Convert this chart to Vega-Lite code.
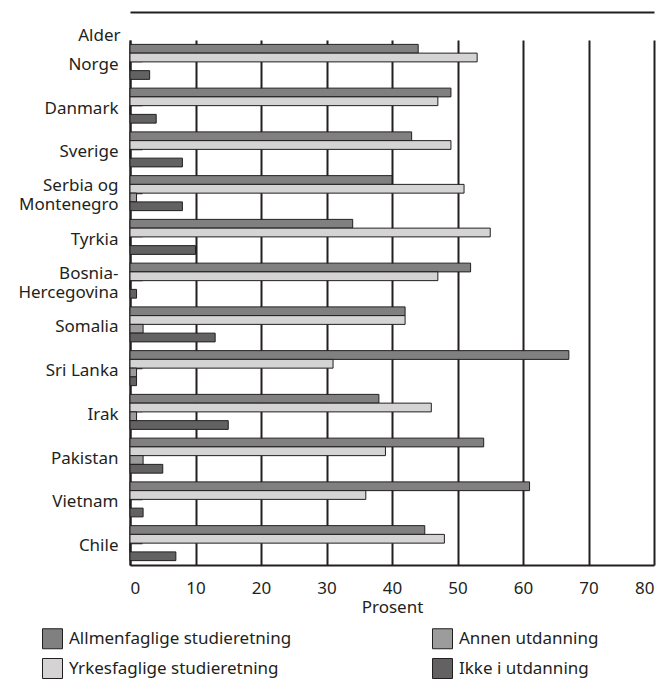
{
  "$schema": "https://vega.github.io/schema/vega-lite/v6.json",
  "width": 524,
  "height": 525,
  "autosize": "none",
  "padding": {"left": 130, "top": 40, "right": 13, "bottom": 128},
  "config": {
    "font": "Noto Sans",
    "view": {"stroke": null},
    "axis": {"labelFont": "Noto Sans", "titleFont": "Noto Sans", "labelColor": "#231f20", "titleColor": "#231f20"},
    "legend": {"labelFont": "Noto Sans", "labelColor": "#231f20"}
  },
  "data": {
    "values": [
      {"land": "Norge", "serie": "Allmenfaglige studieretning", "prosent": 44},
      {"land": "Norge", "serie": "Yrkesfaglige studieretning", "prosent": 53},
      {"land": "Norge", "serie": "Annen utdanning", "prosent": 0},
      {"land": "Norge", "serie": "Ikke i utdanning", "prosent": 3},
      {"land": "Danmark", "serie": "Allmenfaglige studieretning", "prosent": 49},
      {"land": "Danmark", "serie": "Yrkesfaglige studieretning", "prosent": 47},
      {"land": "Danmark", "serie": "Annen utdanning", "prosent": 0},
      {"land": "Danmark", "serie": "Ikke i utdanning", "prosent": 4},
      {"land": "Sverige", "serie": "Allmenfaglige studieretning", "prosent": 43},
      {"land": "Sverige", "serie": "Yrkesfaglige studieretning", "prosent": 49},
      {"land": "Sverige", "serie": "Annen utdanning", "prosent": 0},
      {"land": "Sverige", "serie": "Ikke i utdanning", "prosent": 8},
      {"land": "Serbia og Montenegro", "serie": "Allmenfaglige studieretning", "prosent": 40},
      {"land": "Serbia og Montenegro", "serie": "Yrkesfaglige studieretning", "prosent": 51},
      {"land": "Serbia og Montenegro", "serie": "Annen utdanning", "prosent": 1},
      {"land": "Serbia og Montenegro", "serie": "Ikke i utdanning", "prosent": 8},
      {"land": "Tyrkia", "serie": "Allmenfaglige studieretning", "prosent": 34},
      {"land": "Tyrkia", "serie": "Yrkesfaglige studieretning", "prosent": 55},
      {"land": "Tyrkia", "serie": "Annen utdanning", "prosent": 0},
      {"land": "Tyrkia", "serie": "Ikke i utdanning", "prosent": 10},
      {"land": "Bosnia-Hercegovina", "serie": "Allmenfaglige studieretning", "prosent": 52},
      {"land": "Bosnia-Hercegovina", "serie": "Yrkesfaglige studieretning", "prosent": 47},
      {"land": "Bosnia-Hercegovina", "serie": "Annen utdanning", "prosent": 0},
      {"land": "Bosnia-Hercegovina", "serie": "Ikke i utdanning", "prosent": 1},
      {"land": "Somalia", "serie": "Allmenfaglige studieretning", "prosent": 42},
      {"land": "Somalia", "serie": "Yrkesfaglige studieretning", "prosent": 42},
      {"land": "Somalia", "serie": "Annen utdanning", "prosent": 2},
      {"land": "Somalia", "serie": "Ikke i utdanning", "prosent": 13},
      {"land": "Sri Lanka", "serie": "Allmenfaglige studieretning", "prosent": 67},
      {"land": "Sri Lanka", "serie": "Yrkesfaglige studieretning", "prosent": 31},
      {"land": "Sri Lanka", "serie": "Annen utdanning", "prosent": 1},
      {"land": "Sri Lanka", "serie": "Ikke i utdanning", "prosent": 1},
      {"land": "Irak", "serie": "Allmenfaglige studieretning", "prosent": 38},
      {"land": "Irak", "serie": "Yrkesfaglige studieretning", "prosent": 46},
      {"land": "Irak", "serie": "Annen utdanning", "prosent": 1},
      {"land": "Irak", "serie": "Ikke i utdanning", "prosent": 15},
      {"land": "Pakistan", "serie": "Allmenfaglige studieretning", "prosent": 54},
      {"land": "Pakistan", "serie": "Yrkesfaglige studieretning", "prosent": 39},
      {"land": "Pakistan", "serie": "Annen utdanning", "prosent": 2},
      {"land": "Pakistan", "serie": "Ikke i utdanning", "prosent": 5},
      {"land": "Vietnam", "serie": "Allmenfaglige studieretning", "prosent": 61},
      {"land": "Vietnam", "serie": "Yrkesfaglige studieretning", "prosent": 36},
      {"land": "Vietnam", "serie": "Annen utdanning", "prosent": 0},
      {"land": "Vietnam", "serie": "Ikke i utdanning", "prosent": 2},
      {"land": "Chile", "serie": "Allmenfaglige studieretning", "prosent": 45},
      {"land": "Chile", "serie": "Yrkesfaglige studieretning", "prosent": 48},
      {"land": "Chile", "serie": "Annen utdanning", "prosent": 0},
      {"land": "Chile", "serie": "Ikke i utdanning", "prosent": 7}
    ]
  },
  "resolve": {"axis": {"x": "independent"}},
  "layer": [
    {
      "mark": {"type": "bar", "stroke": "#231f20", "strokeWidth": 1},
      "encoding": {
        "y": {
          "field": "land",
          "type": "nominal",
          "sort": ["Norge", "Danmark", "Sverige", "Serbia og Montenegro", "Tyrkia", "Bosnia-Hercegovina", "Somalia", "Sri Lanka", "Irak", "Pakistan", "Vietnam", "Chile"],
          "scale": {"paddingInner": 0.2, "paddingOuter": 0.1},
          "axis": {
            "title": "Alder",
            "titleAngle": 0,
            "titleAlign": "right",
            "titleBaseline": "alphabetic",
            "titleX": -10,
            "titleY": 0,
            "titleFontSize": 17,
            "titleFontWeight": "normal",
            "labelFontSize": 17,
            "labelLineHeight": 19,
            "labelOffset": {"condition": {"test": "datum.value == 'Serbia og Montenegro' || datum.value == 'Bosnia-Hercegovina'", "value": -7}, "value": 3},
            "labelPadding": 24,
            "labelExpr": "datum.value == 'Serbia og Montenegro' ? ['Serbia og', 'Montenegro'] : datum.value == 'Bosnia-Hercegovina' ? ['Bosnia-', 'Hercegovina'] : datum.value",
            "tickSize": -12,
            "tickWidth": 1.5,
            "tickColor": "#231f20",
            "domainColor": "#231f20",
            "domainWidth": 2,
            "grid": false
          }
        },
        "yOffset": {
          "field": "serie",
          "sort": ["Allmenfaglige studieretning", "Yrkesfaglige studieretning", "Annen utdanning", "Ikke i utdanning"],
          "scale": {"paddingInner": 0, "paddingOuter": 0}
        },
        "x": {
          "field": "prosent",
          "type": "quantitative",
          "scale": {"domain": [0, 80], "nice": false},
          "axis": {
            "title": "Prosent",
            "titleFontSize": 17,
            "titleFontWeight": "normal",
            "titlePadding": 3,
            "labelFontSize": 17,
            "labelPadding": 15,
            "values": [0, 10, 20, 30, 40, 50, 60, 70, 80],
            "ticks": false,
            "grid": true,
            "gridColor": "#231f20",
            "gridWidth": 2,
            "gridOpacity": 1,
            "domainColor": "#231f20",
            "domainWidth": 2
          }
        },
        "color": {
          "field": "serie",
          "type": "nominal",
          "scale": {
            "domain": ["Allmenfaglige studieretning", "Yrkesfaglige studieretning", "Annen utdanning", "Ikke i utdanning"],
            "range": ["#808080", "#d4d4d4", "#9c9c9c", "#626262"]
          },
          "legend": {
            "title": null,
            "orient": "none",
            "legendX": -88,
            "legendY": 588,
            "columns": 2,
            "columnPadding": 138,
            "rowPadding": 5,
            "symbolType": "square",
            "symbolSize": 400,
            "symbolStrokeColor": "#231f20",
            "symbolStrokeWidth": 1,
            "labelFontSize": 17,
            "labelOffset": 6,
            "labelLimit": 400
          }
        }
      }
    },
    {
      "mark": {"type": "point", "opacity": 0},
      "encoding": {
        "x": {
          "field": "prosent",
          "type": "quantitative",
          "axis": {
            "orient": "top",
            "title": null,
            "labels": false,
            "ticks": false,
            "grid": false,
            "domain": true,
            "domainColor": "#231f20",
            "domainWidth": 2,
            "offset": 28
          }
        }
      }
    }
  ]
}
